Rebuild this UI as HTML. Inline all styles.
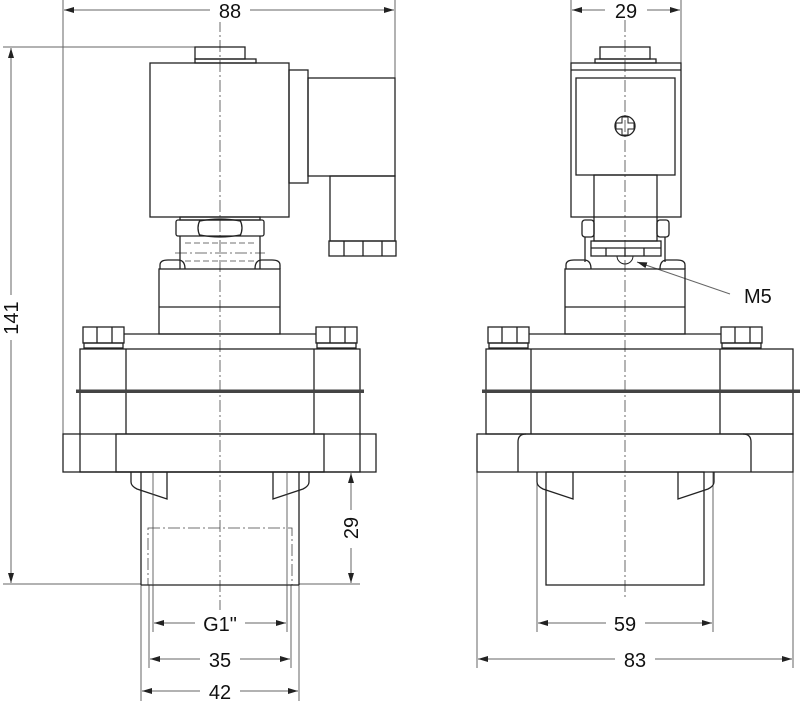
<!DOCTYPE html>
<html><head><meta charset="utf-8"><style>
html,body{margin:0;padding:0;background:#fff}
svg{display:block}
text{font-family:"Liberation Sans",sans-serif;font-size:20px;fill:#111}
</style></head><body>
<svg width="800" height="701" viewBox="0 0 800 701" xmlns="http://www.w3.org/2000/svg">
<defs>
<marker id="a" viewBox="0 0 10 6" refX="10" refY="3" markerWidth="10" markerHeight="6" orient="auto-start-reverse" markerUnits="userSpaceOnUse"><path d="M0,0 L10,3 L0,6z" fill="#222"/></marker>
</defs>
<!-- dimension lines (thin) -->
<g stroke="#666" stroke-width="1" fill="none">
 <!-- 88 -->
 <line x1="63" y1="0" x2="63" y2="455"/>
 <line x1="395" y1="0" x2="395" y2="78"/>
 <line x1="64" y1="10" x2="210" y2="10" marker-start="url(#a)"/>
 <line x1="250" y1="10" x2="394" y2="10" marker-end="url(#a)"/>
 <!-- 141 -->
 <line x1="3" y1="47" x2="195" y2="47"/>
 <line x1="3" y1="584" x2="141" y2="584"/>
 <line x1="11" y1="48" x2="11" y2="295" marker-start="url(#a)"/>
 <line x1="11" y1="340" x2="11" y2="583" marker-end="url(#a)"/>
 <!-- 29 left -->
 <line x1="299" y1="584" x2="360" y2="584"/>
 <line x1="351" y1="473" x2="351" y2="510" marker-start="url(#a)"/>
 <line x1="351" y1="548" x2="351" y2="583" marker-end="url(#a)"/>
 <!-- bottom left -->
 <line x1="153" y1="585" x2="153" y2="632"/>
 <line x1="287" y1="585" x2="287" y2="632"/>
 <line x1="149" y1="585" x2="149" y2="668"/>
 <line x1="291" y1="585" x2="291" y2="668"/>
 <line x1="141" y1="585" x2="141" y2="701"/>
 <line x1="299" y1="585" x2="299" y2="701"/>
 <line x1="154" y1="623" x2="195" y2="623" marker-start="url(#a)"/>
 <line x1="245" y1="623" x2="286" y2="623" marker-end="url(#a)"/>
 <line x1="150" y1="659" x2="200" y2="659" marker-start="url(#a)"/>
 <line x1="240" y1="659" x2="290" y2="659" marker-end="url(#a)"/>
 <line x1="142" y1="691" x2="200" y2="691" marker-start="url(#a)"/>
 <line x1="240" y1="691" x2="298" y2="691" marker-end="url(#a)"/>
 <!-- 29 right top -->
 <line x1="571" y1="0" x2="571" y2="63"/>
 <line x1="681" y1="0" x2="681" y2="63"/>
 <line x1="572" y1="10" x2="605" y2="10" marker-start="url(#a)"/>
 <line x1="647" y1="10" x2="680" y2="10" marker-end="url(#a)"/>
 <!-- bottom right -->
 <line x1="477" y1="472" x2="477" y2="668"/>
 <line x1="793" y1="472" x2="793" y2="668"/>
 <line x1="537" y1="472" x2="537" y2="632"/>
 <line x1="713" y1="472" x2="713" y2="632"/>
 <line x1="538" y1="623" x2="606" y2="623" marker-start="url(#a)"/>
 <line x1="645" y1="623" x2="712" y2="623" marker-end="url(#a)"/>
 <line x1="478" y1="659" x2="615" y2="659" marker-start="url(#a)"/>
 <line x1="655" y1="659" x2="792" y2="659" marker-end="url(#a)"/>
 <!-- M5 leader -->
 <line x1="730" y1="294" x2="637" y2="262" marker-end="url(#a)"/>
</g>
<!-- center lines -->
<g stroke="#444" stroke-width="0.8" stroke-dasharray="12,3,2,3" fill="none">
 <line x1="220" y1="20" x2="220" y2="610"/>
 <line x1="625" y1="20" x2="625" y2="600"/>
 <rect x="148" y="528" width="144" height="57"/>
 <line x1="175" y1="253" x2="265" y2="253"/>
</g>
<!-- left view drawing -->
<g stroke="#222" stroke-width="1.3" fill="none">
 <rect x="195" y="47" width="50" height="12"/>
 <rect x="195" y="59" width="61" height="4"/>
 <rect x="150" y="63" width="139" height="154"/>
 <rect x="289" y="70" width="19" height="113"/>
 <rect x="308" y="78" width="87" height="98"/>
 <rect x="330" y="176" width="65" height="65"/>
 <rect x="329" y="241" width="67" height="15"/>
 <line x1="344" y1="241" x2="344" y2="256"/><line x1="363" y1="241" x2="363" y2="256"/><line x1="382" y1="241" x2="382" y2="256"/>
 <rect x="180" y="217" width="80" height="3"/>
 <rect x="176" y="220" width="88" height="16" rx="2"/>
 <path d="M200,220 q-4,8 0,16 M240,220 q4,8 0,16 M200,221 q20,-4 40,0 M200,235 q20,4 40,0"/>
 <line x1="180" y1="236" x2="180" y2="269"/><line x1="260" y1="236" x2="260" y2="269"/>
 <path d="M160,269 v-4 q0,-5 8,-5 h10 q7,0 7,9 M255,269 q0,-9 7,-9 h10 q8,0 8,5 v4"/>
 <rect x="159" y="269" width="121" height="65"/>
 <line x1="159" y1="307" x2="280" y2="307"/>
 <rect x="83" y="327" width="41" height="16"/><line x1="97" y1="327" x2="97" y2="343"/><line x1="112" y1="327" x2="112" y2="343"/>
 <rect x="316" y="327" width="41" height="16"/><line x1="330" y1="327" x2="330" y2="343"/><line x1="345" y1="327" x2="345" y2="343"/>
 <rect x="84" y="343" width="39" height="5"/><rect x="317" y="343" width="39" height="5"/>
 <line x1="124" y1="334" x2="316" y2="334"/>
 <rect x="80" y="349" width="280" height="123"/>
 <line x1="126" y1="349" x2="126" y2="434"/><line x1="314" y1="349" x2="314" y2="434"/>
 <rect x="63" y="434" width="313" height="38"/>
 <rect x="116" y="434" width="208" height="38"/>
 <line x1="141" y1="472" x2="141" y2="585"/><line x1="299" y1="472" x2="299" y2="585"/>
 <line x1="141" y1="585" x2="299" y2="585"/>
 <path d="M131,472 v10 q0,4 6,7 l30,10 v-27 M273,472 v27 l30,-10 q6,-3 6,-7 v-10"/>
</g>
<rect x="76" y="389.5" width="288" height="3.5" fill="#444"/>
<g stroke="#444" stroke-width="0.8" fill="none">
 <line x1="153" y1="472" x2="153" y2="585"/><line x1="287" y1="472" x2="287" y2="585"/>
 <line x1="185" y1="243" x2="255" y2="243" stroke-dasharray="6,3"/>
 <line x1="185" y1="261" x2="255" y2="261" stroke-dasharray="6,3"/>
</g>
<!-- right view drawing -->
<g stroke="#222" stroke-width="1.3" fill="none">
 <rect x="600" y="47" width="50" height="12"/>
 <rect x="595" y="59" width="61" height="4"/>
 <rect x="571" y="63" width="110" height="154"/>
 <line x1="571" y1="70" x2="681" y2="70"/>
 <rect x="576" y="78" width="99" height="97"/>
 <circle cx="625" cy="126" r="10"/>
 <path d="M622,117 v6 h-6 v6 h6 v6 h6 v-6 h6 v-6 h-6 v-6z" stroke-width="1"/>
 <rect x="594" y="175" width="63" height="66"/>
 <rect x="582" y="220" width="12" height="17" rx="3"/><rect x="657" y="220" width="12" height="17" rx="3"/>
 <line x1="585" y1="237" x2="585" y2="262"/><line x1="665" y1="237" x2="665" y2="262"/>
 <rect x="591" y="241" width="70" height="15"/>
 <line x1="591" y1="248" x2="661" y2="248"/>
 <line x1="606" y1="248" x2="606" y2="256"/><line x1="625" y1="248" x2="625" y2="256"/><line x1="644" y1="248" x2="644" y2="256"/>
 <path d="M617,256 a8,8 0 0 0 16,0" stroke-width="1"/>
 <path d="M566,269 v-4 q0,-5 8,-5 h10 q7,0 7,9 M660,269 q0,-9 7,-9 h10 q8,0 8,5 v4"/>
 <rect x="565" y="269" width="120" height="65"/>
 <line x1="565" y1="307" x2="685" y2="307"/>
 <rect x="488" y="327" width="41" height="16"/><line x1="502" y1="327" x2="502" y2="343"/><line x1="517" y1="327" x2="517" y2="343"/>
 <rect x="721" y="327" width="41" height="16"/><line x1="735" y1="327" x2="735" y2="343"/><line x1="750" y1="327" x2="750" y2="343"/>
 <rect x="489" y="343" width="39" height="5"/><rect x="722" y="343" width="39" height="5"/>
 <line x1="529" y1="334" x2="721" y2="334"/>
 <rect x="486" y="349" width="307" height="85"/>
 <line x1="531" y1="349" x2="531" y2="434"/><line x1="720" y1="349" x2="720" y2="434"/>
 <rect x="477" y="434" width="316" height="38"/>
 <path d="M518,472 v-30 q0,-8 8,-8 M751,472 v-30 q0,-8 -8,-8"/>
 <rect x="546" y="472" width="158" height="113"/>
 <path d="M537,472 v10 q0,4 6,7 l30,10 v-27 M678,472 v27 l30,-10 q6,-3 6,-7 v-10"/>
</g>
<rect x="482" y="389.5" width="318" height="3.5" fill="#444"/>
<!-- labels -->
<g>
 <rect x="212" y="0" width="36" height="22" fill="#fff"/>
 <text x="230" y="18" text-anchor="middle">88</text>
 <text x="626" y="18" text-anchor="middle">29</text>
 <text transform="translate(18,318) rotate(-90)" text-anchor="middle">141</text>
 <text transform="translate(358,528) rotate(-90)" text-anchor="middle">29</text>
 <text x="220" y="631" text-anchor="middle">G1"</text>
 <text x="220" y="667" text-anchor="middle">35</text>
 <text x="220" y="699" text-anchor="middle">42</text>
 <text x="625" y="631" text-anchor="middle">59</text>
 <text x="635" y="667" text-anchor="middle">83</text>
 <text x="744" y="303">M5</text>
</g>
</svg>
</body></html>
